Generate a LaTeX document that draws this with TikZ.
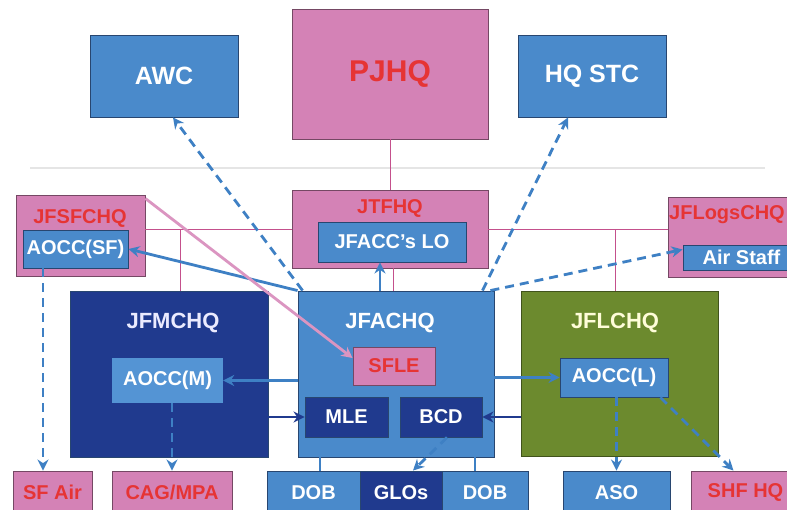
\documentclass[tikz,border=0pt]{standalone}
\usepackage{fontspec}
\setmainfont{Liberation Sans}
\usetikzlibrary{positioning, arrows.meta}
\definecolor{midblue}{RGB}{74,138,203}
\definecolor{lightblue}{RGB}{84,148,212}
\definecolor{navy}{RGB}{32,58,142}
\definecolor{rosy}{RGB}{212,130,182}
\definecolor{redtext}{RGB}{230,52,52}
\definecolor{olive}{RGB}{108,138,46}
\definecolor{edge}{RGB}{40,70,112}
\definecolor{pinkline}{RGB}{196,80,140}
\definecolor{arrowblue}{RGB}{62,128,196}
\newcommand*\fsz[1]{\fontsize{#1}{#1}\selectfont}

\begin{document}
\begin{tikzpicture}[
  x=1pt, y=-1pt,
  every node/.style={font=\bfseries\fsz{20}, inner sep=0pt, text=white},
  sz/.style 2 args={minimum width=#1pt, minimum height=#2pt},
  box/.style={draw=edge, line width=0.9pt},
  bluebox/.style={box, fill=midblue},
  navybox/.style={box, fill=navy},
  greenbox/.style={box, fill=olive, draw=olive!60!black},
  pinkbox/.style={box, fill=rosy, draw=rosy!55!black, text=redtext},
  hqlabel/.style={font=\bfseries\fsz{22}},
  toplabel/.style={font=\bfseries\fsz{25}},
  link/.style={pinkline, line width=1pt},
  arr/.style={-{Stealth[length=11pt,width=11pt]}, arrowblue, line width=2.8pt},
  dasharr/.style={arr, dash pattern=on 9pt off 6pt},
]
  \fill[white] (0,0) rectangle (787,510);
  \useasboundingbox (0,0) rectangle (787,510);
  \draw[black!10, line width=2pt] (30,168) -- (765,168);

  \node[bluebox, sz={148}{82}, toplabel] (awc)   at (164,76)  {AWC};
  \node[pinkbox, sz={196}{130}, font=\bfseries\fsz{30}] (pjhq) at (390,74) {PJHQ};
  \node[bluebox, sz={148}{82}, toplabel] (hqstc) at (592,76)  {HQ STC};

  \node[pinkbox, sz={196}{78}]  (jtfhq)     at (390,229) {};
  \node[text=redtext]           (jtfhqtxt)  at (390,208) {JTFHQ};
  \node[bluebox, sz={148}{40}]  (jfacclo)   at (392,242) {JFACC's LO};

  \node[pinkbox, sz={129}{81}]  (jfsfchq)    at (80.5,235.5) {};
  \node[text=redtext]           (jfsfchqtxt) at (80,218) {JFSFCHQ};
  \node[bluebox, sz={105}{38}]  (aoccsf)     at (75.5,249) {AOCC(SF)};

  \node[pinkbox, sz={140}{80}]  (jflogs)     at (738,237) {};
  \node[text=redtext, anchor=west] (jflogstxt) at (669,215) {JFLogsCHQ};
  \node[bluebox, sz={117}{25}]  (airstaff)   at (741.5,257.5) {Air Staff};

  \node[navybox, sz={198}{166}] (jfmchq)    at (169,374) {};
  \node[hqlabel, text=blue!8]   (jfmchqtxt) at (173,323) {JFMCHQ};
  \node[fill=lightblue, sz={111}{45}] (aoccm) at (167.5,380.5) {AOCC(M)};

  \node[bluebox, sz={196}{166}] (jfachq)    at (396,374) {};
  \node[hqlabel]                (jfachqtxt) at (390,323) {JFACHQ};
  \node[pinkbox, sz={82}{38}]   (sfle)      at (394,366) {SFLE};
  \node[navybox, sz={83}{40}]   (mle)       at (346.5,417) {MLE};
  \node[navybox, sz={82}{40}]   (bcd)       at (441,417) {BCD};

  \node[greenbox, sz={197}{165}] (jflchq)    at (619.5,373.5) {};
  \node[hqlabel, text=yellow!15] (jflchqtxt) at (615,323) {JFLCHQ};
  \node[bluebox, sz={108}{39}]   (aoccl)     at (614,377.5) {AOCC(L)};

  \node[pinkbox, sz={79}{43}]  (sfair)  at (52.5,492.5)  {SF Air};
  \node[pinkbox, sz={120}{43}] (cagmpa) at (172,492.5)   {CAG/MPA};
  \node[bluebox, sz={93}{43}]  (dobl)   at (313.5,492.5) {DOB};
  \node[navybox, sz={82}{43}]  (glos)   at (401,492.5)   {GLOs};
  \node[bluebox, sz={86}{43}]  (dobr)   at (485,492.5)   {DOB};
  \node[bluebox, sz={107}{43}] (aso)    at (616.5,492.5) {ASO};
  \node[pinkbox, sz={109}{43}] (shfhq)  at (745.5,492.5) {SHF HQ};

  \coordinate (bus)   at (0,230);
  \coordinate (mdrop) at (180,230);
  \coordinate (ldrop) at (615,230);
  \draw[link] (pjhq) -- (jtfhq);
  \draw[link] (jfsfchq.east |- bus) -- (jtfhq.west |- bus);
  \draw[link] (jtfhq.east |- bus) -- (jflogs.west |- bus);
  \draw[link] (mdrop) -- (mdrop |- jfmchq.north);
  \draw[link] (ldrop) -- (ldrop |- jflchq.north);
  \draw[link] ([xshift=3pt]jtfhq.south) -- ([xshift=3pt]jtfhq.south |- jfachq.north);
  \draw[arrowblue, line width=1.5pt] ([xshift=6.5pt]dobl.north) -- ([xshift=6.5pt]dobl.north |- jfachq.south);
  \draw[arrowblue, line width=1.5pt] ([xshift=-10pt]dobr.north) -- ([xshift=-10pt]dobr.north |- jfachq.south);

  \draw[dasharr] ([xshift=5pt]jfachq.north west) -- ([xshift=9pt]awc.south);
  \draw[dasharr] ([xshift=-12pt]jfachq.north east) -- ([xshift=-24pt]hqstc.south);
  \draw[dasharr] ([xshift=-4pt]jfachq.north east) -- ([yshift=8pt]airstaff.west);
  \draw[arr] ([xshift=-12pt]jfacclo.south |- jfachq.north) -- ([xshift=-12pt]jfacclo.south);
  \draw[arr] (jfachq.north west) -- (aoccsf.east);
  \draw[arr, rosy!85!white] ([yshift=-4pt]jfsfchq.north east) -- ([yshift=8pt]sfle.west);
  \draw[arr] (jfachq.west |- aoccm.east) -- (aoccm.east);
  \draw[arr, navy] (jfmchq.east |- mle.west) -- (mle.west);
  \draw[arr, navy] (jflchq.west |- bcd.east) -- (bcd.east);
  \draw[arr] (jfachq.east |- aoccl.west) -- (aoccl.west);
  \draw[dasharr] ([xshift=-9.5pt]sfair.north |- aoccsf.south) -- ([xshift=-9.5pt]sfair.north);
  \draw[dasharr] (cagmpa.north |- aoccm.south) -- (cagmpa.north);
  \draw[dasharr] ([xshift=6pt]bcd.south) -- ([xshift=12pt]glos.north);
  \draw[dasharr] (aso.north |- aoccl.south) -- (aso.north);
  \draw[dasharr] ([xshift=-8pt]aoccl.south east) -- ([xshift=-12pt]shfhq.north);
\end{tikzpicture}
\end{document}
